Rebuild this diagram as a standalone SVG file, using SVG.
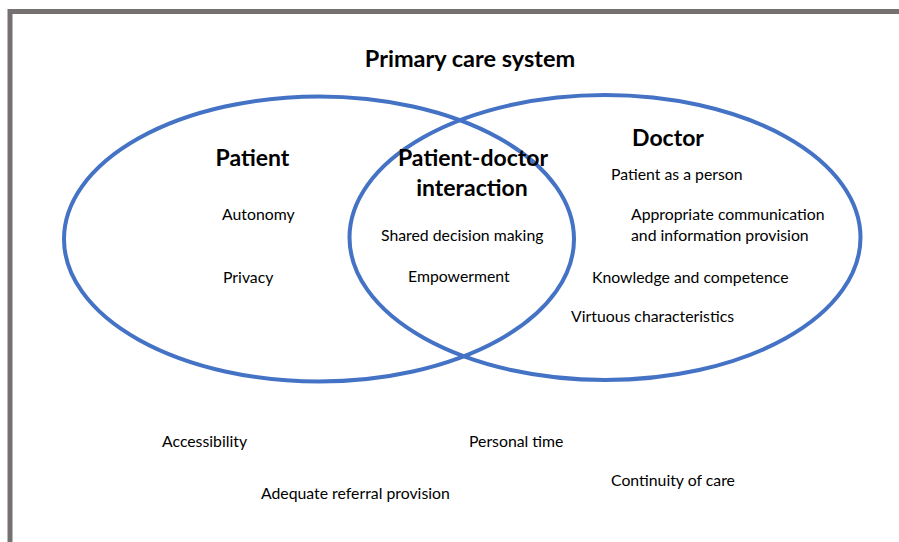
<svg xmlns="http://www.w3.org/2000/svg" width="899" height="542" viewBox="0 0 899 542">
  <style>
    .frame { fill: none; stroke: #767171; stroke-width: 5; }
    .ring { fill: none; stroke: #4472C4; stroke-width: 4; }
    .title { font-family: Lato, "Liberation Sans", sans-serif; font-weight: bold; font-size: 23.5px; fill: #000; text-anchor: middle; }
    .head { font-family: Lato, "Liberation Sans", sans-serif; font-weight: bold; font-size: 23px; fill: #000; text-anchor: middle; }
    .item { font-family: Lato, "Liberation Sans", sans-serif; font-size: 15.8px; fill: #000; }
  </style>

  <rect width="899" height="542" fill="#ffffff"/>

  <!-- outer frame: top and left edges only -->
  <path class="frame" d="M10 542 V11.5 H899"/>

  <text class="title" x="470" y="67">Primary care system</text>

  <g id="patient">
    <ellipse class="ring" cx="319" cy="239" rx="255" ry="142.5"/>
    <text class="head" x="252.5" y="166">Patient</text>
    <text class="item" x="222" y="220">Autonomy</text>
    <text class="item" x="223" y="283">Privacy</text>
  </g>

  <g id="doctor">
    <ellipse class="ring" cx="605" cy="237.5" rx="255.5" ry="142.5"/>
    <text class="head" x="668" y="146">Doctor</text>
    <text class="item" x="611" y="180">Patient as a person</text>
    <text class="item" x="631" y="220">Appropriate communication</text>
    <text class="item" x="631" y="241">and information provision</text>
    <text class="item" x="592" y="283">Knowledge and competence</text>
    <text class="item" x="571" y="322">Virtuous characteristics</text>
  </g>

  <g id="interaction">
    <text class="head" x="473" y="166">Patient-doctor</text>
    <text class="head" x="472" y="196">interaction</text>
    <text class="item" x="381" y="241">Shared decision making</text>
    <text class="item" x="408" y="282">Empowerment</text>
  </g>

  <g id="system-factors">
    <text class="item" x="162" y="447">Accessibility</text>
    <text class="item" x="469" y="447">Personal time</text>
    <text class="item" x="261" y="499">Adequate referral provision</text>
    <text class="item" x="611" y="486">Continuity of care</text>
  </g>

  <g id="connectors"></g>
</svg>
